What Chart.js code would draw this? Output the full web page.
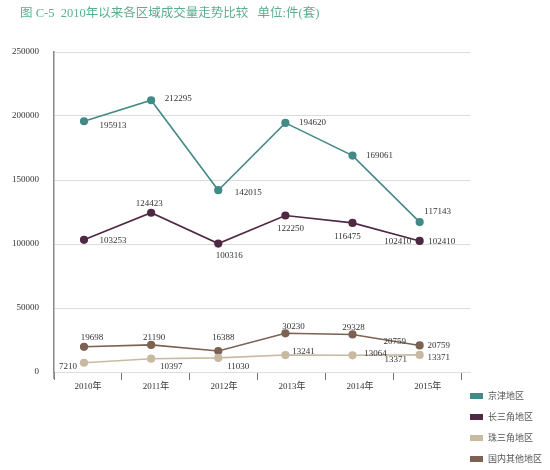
<!DOCTYPE html>
<html>
<head>
<meta charset="utf-8">
<script src="https://cdn.jsdelivr.net/npm/chart.js@4.4.0/dist/chart.umd.min.js"></script>
<style>
  html, body { margin: 0; padding: 0; background: #fff; }
  #wrap { width: 550px; height: 470px; }
</style>
</head>
<body>
<div id="wrap"><canvas id="trendChart" width="550" height="470"></canvas></div>
<script>
// --- data ---
const years = ['2010年', '2011年', '2012年', '2013年', '2014年', '2015年'];
const regions = ['京津地区', '长三角地区', '珠三角地区', '国内其他地区'];
const jingjin = [195913, 212295, 142015, 194620, 169061, 117143];
const changsanjiao = [103253, 124423, 100316, 122250, 116475, 102410];
const zhusanjiao = [7210, 10397, 11030, 13241, 13064, 13371];
const others = [19698, 21190, 16388, 30230, 29328, 20759];
const yTicks = [0, 50000, 100000, 150000, 200000, 250000];
const chartTitle = '图 C-5  2010年以来各区域成交量走势比较   单位:件(套)';

const series = [jingjin, changsanjiao, zhusanjiao, others];
const colors = ['#428a86', '#4f2944', '#c8baa0', '#7b6252'];

// label placement (offset of label centre from the point), per series
const labelOffsets = [
    [[29, 4], [27, -2], [30, 2], [27, 0], [27, 0], [18, -10]],
    [[29, 1], [-2, -9], [11, 12], [5, 13], [-5, 14], [22, 1]],
    [[-16, 4], [20, 8], [20, 9], [18, -3], [23, -2], [19, 3]],
    [[8, -9], [3, -7], [5, -13], [8, -7], [1, -7], [19, 0]]
];
// the original repeats the last label of three series on the left side
const repeatLabels = [
    { s: 1, i: 5, dx: -22, dy: 1 },
    { s: 2, i: 5, dx: -24, dy: 5 },
    { s: 3, i: 5, dx: -25, dy: -4 }
];

const serif = '"Liberation Serif", "Noto Sans CJK SC", serif';

// --- value labels, legend and title ---
const decorations = {
    id: 'decorations',
    afterDatasetsDraw(chart) {
        const ctx = chart.ctx;
        ctx.save();
        ctx.font = '9px ' + serif;
        ctx.fillStyle = '#333';
        ctx.textAlign = 'center';
        ctx.textBaseline = 'middle';
        series.forEach((values, s) => {
            const meta = chart.getDatasetMeta(s);
            meta.data.forEach((pt, i) => {
                const [dx, dy] = labelOffsets[s][i];
                ctx.fillText(String(values[i]), pt.x + dx, pt.y + dy);
            });
        });
        repeatLabels.forEach(r => {
            const pt = chart.getDatasetMeta(r.s).data[r.i];
            ctx.fillText(String(series[r.s][r.i]), pt.x + r.dx, pt.y + r.dy);
        });
        // y axis line runs a little past the zero line, as in the original
        const area = chart.chartArea;
        ctx.strokeStyle = '#888';
        ctx.lineWidth = 1.5;
        ctx.beginPath();
        ctx.moveTo(area.left, area.bottom);
        ctx.lineTo(area.left, area.bottom + 7);
        ctx.stroke();
        ctx.restore();
    },
    afterDraw(chart) {
        const ctx = chart.ctx;
        ctx.save();
        // title
        ctx.font = '12.5px ' + serif;
        ctx.fillStyle = '#5dae8f';
        ctx.textAlign = 'left';
        ctx.textBaseline = 'middle';
        ctx.fillText(chartTitle, 20, 14);
        // legend (bottom right, vertical)
        ctx.font = '9px "Noto Sans CJK SC", sans-serif';
        chart.data.datasets.forEach((ds, k) => {
            const y = 396 + k * 21;
            ctx.fillStyle = ds.borderColor;
            ctx.fillRect(470, y - 3, 13, 6);
            ctx.fillStyle = '#555';
            ctx.fillText(ds.label, 488, y);
        });
        ctx.restore();
    }
};

const ctx = document.getElementById('trendChart').getContext('2d');
new Chart(ctx, {
    type: 'line',
    data: {
        datasets: series.map((values, s) => ({
            label: regions[s],
            data: values.map((v, i) => ({ x: i, y: v })),
            xAxisID: 'xd',
            borderColor: colors[s],
            backgroundColor: colors[s],
            pointBackgroundColor: colors[s],
            pointBorderColor: colors[s],
            borderWidth: 1.6,
            pointRadius: 3.3,
            tension: 0
        }))
    },
    options: {
        responsive: false,
        animation: false,
        layout: { padding: { top: 52, right: 80, bottom: 78, left: 0 } },
        plugins: {
            legend: { display: false },
            tooltip: { enabled: false }
        },
        scales: {
            // data positions
            xd: {
                type: 'linear',
                display: false,
                min: -0.447,
                max: 5.75
            },
            // year labels and tick marks between them
            x: {
                type: 'linear',
                position: 'bottom',
                min: -0.5,
                max: 5.62,
                afterBuildTicks: (scale) => { scale.ticks = years.map((_, i) => ({ value: i })); },
                afterFit: (scale) => { scale.height = 20; },
                border: { color: '#ddd', width: 1 },
                grid: { offset: true, drawOnChartArea: false, drawTicks: true, tickLength: 8, tickColor: '#777', tickWidth: 1 },
                ticks: {
                    autoSkip: false,
                    maxRotation: 0,
                    padding: 1,
                    color: '#333',
                    font: { size: 9, family: serif },
                    callback: (v) => years[v]
                }
            },
            y: {
                min: 0,
                max: 250000,
                afterBuildTicks: (scale) => { scale.ticks = yTicks.map(v => ({ value: v })); },
                afterFit: (scale) => { scale.width = 54; },
                border: { color: '#888', width: 1.5 },
                grid: { color: '#dcdcdc', drawTicks: false },
                ticks: {
                    padding: 15,
                    color: '#333',
                    font: { size: 9, family: serif },
                    callback: (v) => String(v)
                }
            }
        }
    },
    plugins: [decorations]
});
</script>
</body>
</html>
